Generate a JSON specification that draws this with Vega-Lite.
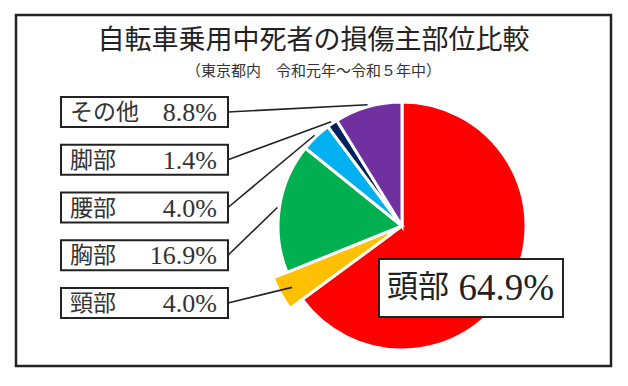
{
  "$schema": "https://vega.github.io/schema/vega-lite/v6.json",
  "width": 628,
  "height": 386,
  "autosize": {"type": "fit", "contains": "padding"},
  "padding": {"left": 16, "top": 15, "right": 17, "bottom": 20},
  "background": "white",
  "config": {"view": {"stroke": "#222", "strokeWidth": 2.5}},
  "title": {
    "text": "自転車乗用中死者の損傷主部位比較",
    "subtitle": "（東京都内　令和元年〜令和５年中）",
    "anchor": "middle",
    "orient": "top",
    "offset": -65,
    "font": "Noto Sans CJK JP",
    "fontSize": 27,
    "fontWeight": "normal",
    "color": "#222",
    "subtitleFont": "Noto Sans CJK JP",
    "subtitleFontSize": 15,
    "subtitleColor": "#333",
    "subtitlePadding": 9
  },
  "data": {
    "values": [
      {"部位": "頭部", "割合": 0.649},
      {"部位": "頸部", "割合": 0.040},
      {"部位": "胸部", "割合": 0.169},
      {"部位": "腰部", "割合": 0.040},
      {"部位": "脚部", "割合": 0.014},
      {"部位": "その他", "割合": 0.088}
    ]
  },
  "transform": [
    {"window": [{"op": "row_number", "as": "i"}]}
  ],
  "layer": [
    {
      "mark": {"type": "arc", "stroke": "white", "strokeWidth": 3},
      "encoding": {
        "x": {"value": 386},
        "y": {"value": 211},
        "theta": {"field": "割合", "type": "quantitative", "stack": true},
        "order": {"field": "i", "type": "quantitative"},
        "radius": {"value": {"expr": "datum['部位'] === '頸部' ? 139 : 124"}},
        "radius2": {"value": {"expr": "datum['部位'] === '頸部' ? 15 : 0"}},
        "color": {
          "field": "部位",
          "type": "nominal",
          "scale": {
            "domain": ["頭部", "頸部", "胸部", "腰部", "脚部", "その他"],
            "range": ["#FF0000", "#FFC000", "#00B050", "#00B0F0", "#002060", "#7030A0"]
          },
          "legend": null
        }
      }
    },
    {
      "transform": [
        {"stack": "割合", "groupby": [], "sort": [{"field": "i", "order": "ascending"}], "as": ["s0", "s1"]},
        {"filter": "datum['部位'] !== '頭部'"}
      ],
      "mark": {"type": "rule", "stroke": "#222", "strokeWidth": 1.6},
      "encoding": {
        "x": {"value": 212},
        "y": {
          "field": "部位",
          "type": "nominal",
          "scale": {
            "domain": ["その他", "脚部", "腰部", "胸部", "頸部"],
            "range": [82, 303],
            "paddingInner": 0.372,
            "paddingOuter": 0
          },
          "axis": null
        },
        "x2": {"value": {"expr": "386 + 126 * sin(PI * (datum.s0 + datum.s1))"}},
        "y2": {"value": {"expr": "211 - 126 * cos(PI * (datum.s0 + datum.s1))"}}
      }
    },
    {
      "transform": [{"filter": "datum['部位'] !== '頭部'"}],
      "mark": {"type": "rect", "fill": "white", "stroke": "#222", "strokeWidth": 2},
      "encoding": {
        "x": {"value": 45},
        "x2": {"value": 212},
        "y": {"field": "部位", "type": "nominal", "axis": null}
      }
    },
    {
      "transform": [{"filter": "datum['部位'] !== '頭部'"}],
      "mark": {"type": "text", "align": "left", "baseline": "middle", "font": "Noto Sans CJK JP", "fontSize": 23, "color": "#333", "dy": 1},
      "encoding": {
        "x": {"value": 54},
        "y": {"field": "部位", "type": "nominal", "axis": null},
        "text": {"field": "部位", "type": "nominal"}
      }
    },
    {
      "transform": [{"filter": "datum['部位'] !== '頭部'"}],
      "mark": {"type": "text", "align": "right", "baseline": "middle", "font": "Liberation Serif", "fontSize": 26, "color": "#333", "dy": 1},
      "encoding": {
        "x": {"value": 201},
        "y": {"field": "部位", "type": "nominal", "axis": null},
        "text": {"field": "割合", "type": "quantitative", "format": ".1%"}
      }
    },
    {
      "transform": [{"filter": "datum['部位'] === '頭部'"}],
      "mark": {"type": "rect", "fill": "white", "stroke": "#222", "strokeWidth": 2},
      "encoding": {
        "x": {"value": 363},
        "x2": {"value": 547},
        "y": {"value": 244},
        "y2": {"value": 302}
      }
    },
    {
      "transform": [{"filter": "datum['部位'] === '頭部'"}],
      "mark": {"type": "text", "align": "left", "baseline": "middle", "font": "Noto Sans CJK JP", "fontSize": 31, "color": "#222"},
      "encoding": {
        "x": {"value": 371},
        "y": {"value": 273},
        "text": {"field": "部位", "type": "nominal"}
      }
    },
    {
      "transform": [{"filter": "datum['部位'] === '頭部'"}],
      "mark": {"type": "text", "align": "right", "baseline": "middle", "font": "Liberation Serif", "fontSize": 37, "color": "#222", "dy": 1},
      "encoding": {
        "x": {"value": 538},
        "y": {"value": 273},
        "text": {"field": "割合", "type": "quantitative", "format": ".1%"}
      }
    }
  ]
}
